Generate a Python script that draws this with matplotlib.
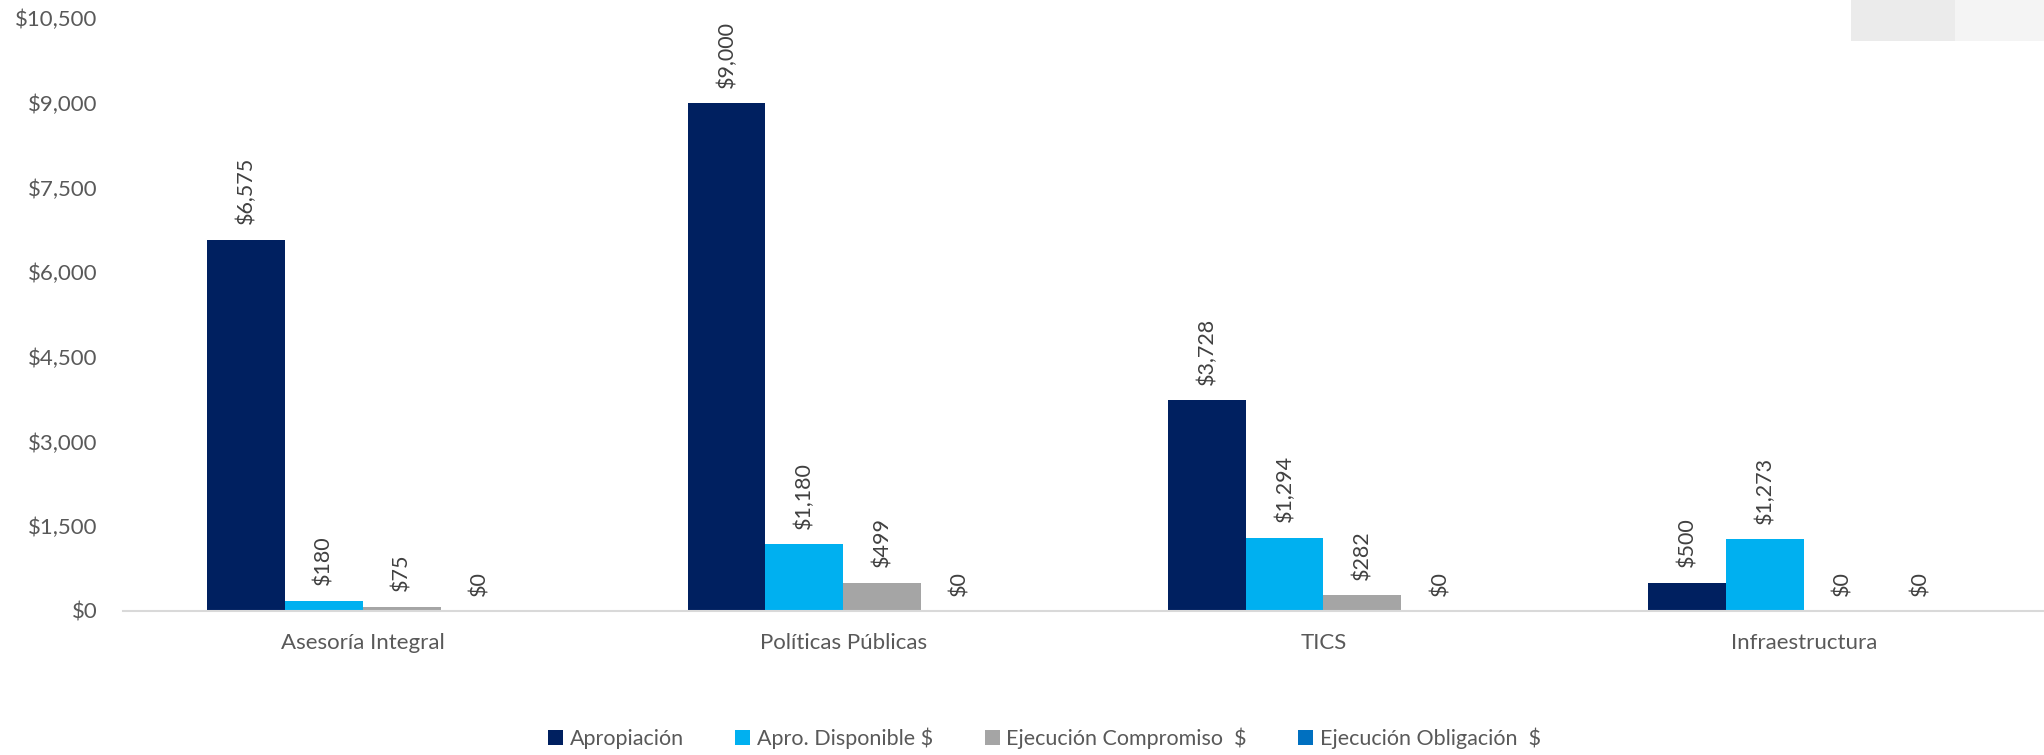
import matplotlib
matplotlib.use("Agg")
import matplotlib.pyplot as plt
import numpy as np
from matplotlib.patches import Rectangle

categories = ["Asesoría Integral", "Políticas Públicas", "TICS", "Infraestructura"]
series_names = ["Apropiación", "Apro. Disponible $", "Ejecución Compromiso  $", "Ejecución Obligación  $"]
apropiacion = [6575, 9000, 3728, 500]
disponible = [180, 1180, 1294, 1273]
compromiso = [75, 499, 282, 0]
obligacion = [0, 0, 0, 0]
yticks = [0, 1500, 3000, 4500, 6000, 7500, 9000, 10500]

colors = ["#002060", "#00B0F0", "#A5A5A5", "#0070C0"]
text_color = "#595959"

plt.rcParams["font.family"] = ["Lato", "DejaVu Sans"]

fig = plt.figure(figsize=(20.44, 7.55), dpi=100)
ax = fig.add_axes([0.06, 0.191, 0.94, 0.785])

x = np.arange(len(categories))
w = 0.162
all_series = [apropiacion, disponible, compromiso, obligacion]
for i, (vals, name, c) in enumerate(zip(all_series, series_names, colors)):
    pos = x + (i - 1.5) * w
    ax.bar(pos, vals, width=w, color=c, label=name, zorder=2)
    for px, v in zip(pos, vals):
        ax.annotate(f"${v:,.0f}", (px, v), xytext=(0, 11), textcoords="offset points",
                    rotation=90, ha="center", va="bottom", fontsize=15.5, color="#404040")

ax.set_xlim(-0.5, 3.5)
ax.set_ylim(0, 10500)
ax.set_yticks(yticks)
ax.set_yticklabels([f"${t:,.0f}" for t in yticks])
ax.set_xticks(x)
ax.set_xticklabels(categories)
ax.tick_params(axis="y", length=0, pad=18, labelsize=16, labelcolor=text_color)
ax.tick_params(axis="x", length=0, pad=16, labelsize=16, labelcolor=text_color)
for s in ["top", "right", "left"]:
    ax.spines[s].set_visible(False)
ax.spines["bottom"].set_color("#d9d9d9")
ax.spines["bottom"].set_linewidth(1.5)

leg = fig.legend(loc="center", bbox_to_anchor=(0.511, 0.022), ncol=4, frameon=False,
                 fontsize=15.5, handlelength=0.7, handleheight=0.7, handletextpad=0.3,
                 columnspacing=2.4)
for t in leg.get_texts():
    t.set_color(text_color)

# logo box in the top right corner
fig.patches.append(Rectangle((0.9056, 0.946), 0.051, 0.054, transform=fig.transFigure,
                             facecolor="#ebebeb", edgecolor="none"))
fig.patches.append(Rectangle((0.9565, 0.946), 0.0435, 0.054, transform=fig.transFigure,
                             facecolor="#f4f4f4", edgecolor="none"))

fig.savefig("out.png", dpi=100)
